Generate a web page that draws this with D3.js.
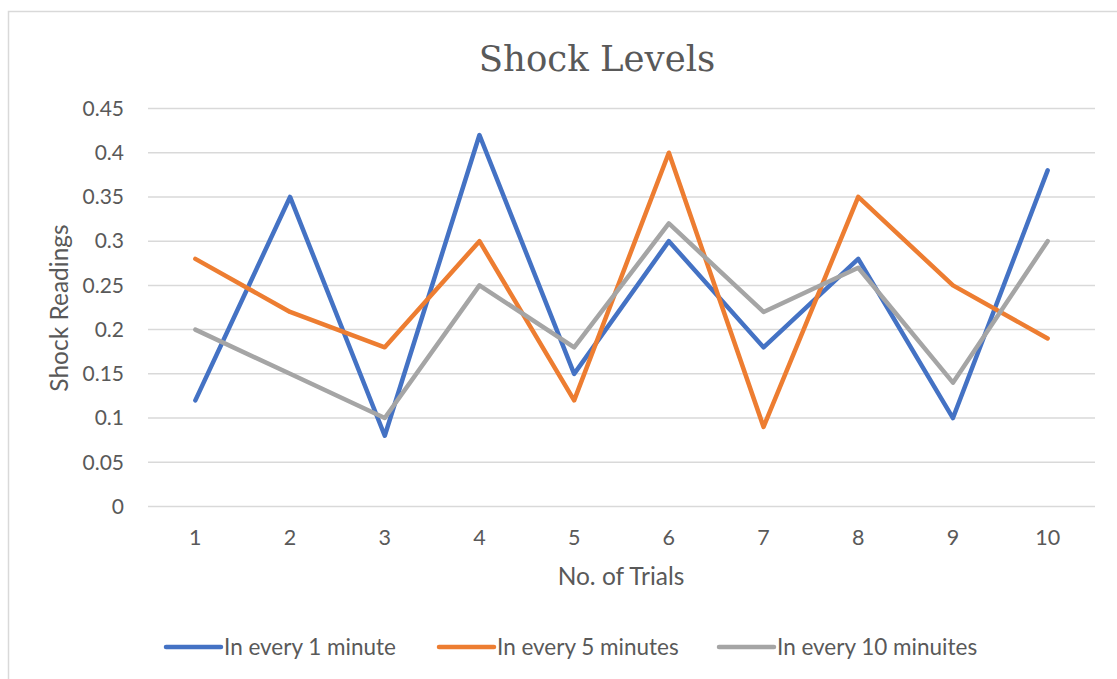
<!DOCTYPE html>
<html>
<head>
<meta charset="utf-8">
<script src="https://cdn.jsdelivr.net/npm/d3@7"></script>
<style>
  html, body { margin: 0; padding: 0; background: #fff; }
  svg { display: block; }
</style>
</head>
<body>
<svg id="chart" width="1117" height="679"></svg>
<script>
const trials = [1, 2, 3, 4, 5, 6, 7, 8, 9, 10];
const seriesNames = ["In every 1 minute", "In every 5 minutes", "In every 10 minuites"];
const every1 = [0.12, 0.35, 0.08, 0.42, 0.15, 0.30, 0.18, 0.28, 0.10, 0.38];
const every5 = [0.28, 0.22, 0.18, 0.30, 0.12, 0.40, 0.09, 0.35, 0.25, 0.19];
const every10 = [0.20, 0.15, 0.10, 0.25, 0.18, 0.32, 0.22, 0.27, 0.14, 0.30];
const yTicks = [0, 0.05, 0.1, 0.15, 0.2, 0.25, 0.3, 0.35, 0.4, 0.45];
const colors = ["#4472C4", "#ED7D31", "#A5A5A5"];

const series = [every1, every5, every10].map((vals, i) => ({ name: seriesNames[i], color: colors[i], values: vals }));

const svg = d3.select("#chart");
const textColor = "#595959";
const font = "Lato, 'Open Sans', sans-serif";

// chart border
svg.append("rect").attr("x", 8.5).attr("y", 11.5).attr("width", 1120).attr("height", 700)
  .attr("fill", "#fff").attr("stroke", "#D9D9D9").attr("stroke-width", 1.5);

const plot = { left: 148, right: 1095, top: 108.5, bottom: 506.5 };

const x = d3.scaleBand().domain(trials).range([plot.left, plot.right]).padding(0);
const y = d3.scaleLinear().domain([0, 0.45]).range([plot.bottom, plot.top]);

// gridlines
svg.append("g").selectAll("line").data(yTicks).join("line")
  .attr("x1", plot.left).attr("x2", plot.right)
  .attr("y1", d => y(d)).attr("y2", d => y(d))
  .attr("stroke", "#D9D9D9").attr("stroke-width", 1.5);

// y axis
const yAxis = svg.append("g").attr("transform", `translate(${plot.left},0)`)
  .call(d3.axisLeft(y).tickValues(yTicks).tickFormat(d => String(+d.toFixed(2))).tickSize(0).tickPadding(24));
yAxis.select(".domain").remove();
yAxis.selectAll("text").attr("fill", textColor).style("font-family", font).style("font-size", "21px");

// x axis
const xAxis = svg.append("g").attr("transform", `translate(0,${plot.bottom})`)
  .call(d3.axisBottom(x).tickSize(0).tickPadding(23));
xAxis.select(".domain").remove();
xAxis.selectAll("text").attr("fill", textColor).style("font-family", font).style("font-size", "21.5px");

// title
svg.append("text").attr("x", 597).attr("y", 71).attr("text-anchor", "middle")
  .attr("fill", textColor).style("font-family", "'DejaVu Serif', serif").style("font-size", "35.5px")
  .text("Shock Levels");

// axis titles
svg.append("text").attr("x", 621).attr("y", 585).attr("text-anchor", "middle")
  .attr("fill", textColor).style("font-family", font).style("font-size", "24.5px")
  .text("No. of Trials");
svg.append("text").attr("transform", "translate(68,308) rotate(-90)").attr("text-anchor", "middle")
  .attr("fill", textColor).style("font-family", font).style("font-size", "24.5px")
  .text("Shock Readings");

// lines
const line = d3.line().x((d, i) => x(trials[i]) + x.bandwidth() / 2).y(d => y(d));
svg.append("g").selectAll("path").data(series).join("path")
  .attr("d", d => line(d.values))
  .attr("fill", "none").attr("stroke", d => d.color).attr("stroke-width", 4.5)
  .attr("stroke-linejoin", "round").attr("stroke-linecap", "round");

// legend
const legendX = [166, 439, 719];
const lg = svg.append("g").selectAll("g").data(series).join("g")
  .attr("transform", (d, i) => `translate(${legendX[i]},647)`);
lg.append("line").attr("x1", 0).attr("x2", 55).attr("y1", 0).attr("y2", 0)
  .attr("stroke", d => d.color).attr("stroke-width", 4.5).attr("stroke-linecap", "round");
lg.append("text").attr("x", 58).attr("y", 8).attr("fill", textColor)
  .style("font-family", font).style("font-size", "22.5px").text(d => d.name);
</script>
</body>
</html>
